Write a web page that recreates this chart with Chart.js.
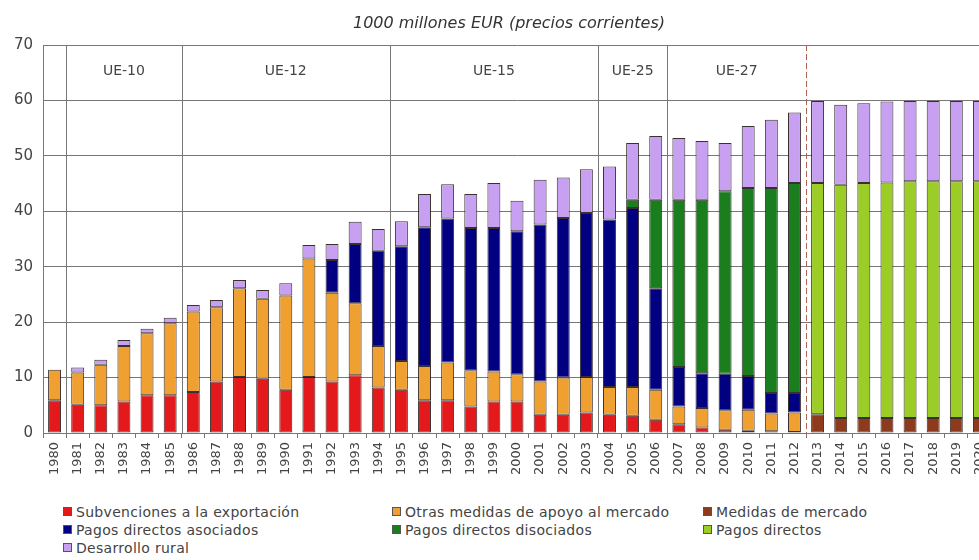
<!DOCTYPE html>
<html lang="es">
<head>
<meta charset="UTF-8">
<title>Gasto PAC</title>
<script src="https://cdn.jsdelivr.net/npm/chart.js@4.4.0/dist/chart.umd.min.js"></script>
<style>
  html, body { margin: 0; padding: 0; background: #fff; overflow: hidden; }
  #wrap { position: relative; width: 1018px; height: 560px; }
  #legend { position: absolute; left: 63px; top: 503px; font: 14px "DejaVu Sans", sans-serif; color: #444; letter-spacing: 0.3px; }
  #legend div.it { position: absolute; white-space: nowrap; height: 18px; line-height: 18px; }
  #legend span.sq { display: inline-block; width: 7px; height: 7px; border: 1px solid #555; margin-right: 4px; vertical-align: 1px; }
</style>
</head>
<body>
<div id="wrap">
  <canvas id="paint" width="1018" height="490"></canvas>
  <div id="legend"></div>
</div>
<script>
var years = [];
for (var y = 1980; y <= 2020; y++) years.push(String(y));

var titleText = "1000 millones EUR (precios corrientes)";

// 1000 millones EUR, value of each segment
var subvExport = [5.9,5.1,5.0,5.7,6.8,6.8,7.4,9.3,10.1,9.8,7.8,10.1,9.3,10.4,8.2,7.8,5.9,5.9,4.8,5.7,5.7,3.3,3.3,3.7,3.3,3.1,2.4,1.6,1.0,0.6,0.4,0.3,0.2,0,0,0,0,0,0,0,0];
var otrasMedidas = [5.5,5.8,7.3,10.0,11.2,13.0,14.5,13.4,16.0,14.4,17.0,21.4,16.0,13.0,7.5,5.2,6.2,6.8,6.5,5.4,4.9,6.0,6.7,6.4,5.0,5.2,5.4,3.2,3.5,3.5,3.8,3.2,3.5,0,0,0,0,0,0,0,0];
var medidasMercado = [0,0,0,0,0,0,0,0,0,0,0,0,0,0,0,0,0,0,0,0,0,0,0,0,0,0,0,0,0,0,0,0,0,3.4,2.7,2.7,2.7,2.7,2.7,2.7,2.7];
var pagosAsociados = [0,0,0,0,0,0,0,0,0,0,0,0,5.9,10.7,17.2,20.7,25.0,26.0,25.7,25.9,25.8,28.3,28.8,29.6,30.2,32.3,18.3,7.1,6.3,6.6,6.1,3.7,3.5,0,0,0,0,0,0,0,0];
var pagosDisociados = [0,0,0,0,0,0,0,0,0,0,0,0,0,0,0,0,0,0,0,0,0,0,0,0,0,1.5,16.0,30.2,31.3,32.9,33.9,37.0,37.9,0,0,0,0,0,0,0,0];
var pagosDirectos = [0,0,0,0,0,0,0,0,0,0,0,0,0,0,0,0,0,0,0,0,0,0,0,0,0,0,0,0,0,0,0,0,0,41.7,42.1,42.4,42.5,42.7,42.7,42.7,42.7];
var desarrolloRural = [0,0.9,0.9,1.1,0.8,1.0,1.2,1.3,1.5,1.6,2.2,2.4,2.9,4.0,3.9,4.5,6.0,6.2,6.1,8.1,5.5,8.1,7.3,7.9,9.6,10.2,11.5,11.1,10.6,8.7,11.2,12.3,12.7,14.8,14.4,14.4,14.6,14.5,14.5,14.5,14.5];

var seriesNames = ["Subvenciones a la exportación","Otras medidas de apoyo al mercado","Medidas de mercado","Pagos directos asociados","Pagos directos disociados","Pagos directos","Desarrollo rural"];
var seriesData = [subvExport, otrasMedidas, medidasMercado, pagosAsociados, pagosDisociados, pagosDirectos, desarrolloRural];
var seriesColors = ["#e3191c","#f0a030","#8e3a1c","#000080","#1a7d1e","#9ccc26","#c8a0f2"];

var regionNames = ["UE-10","UE-12","UE-15","UE-25","UE-27"];
var regionFirst = ["1981","1986","1995","2004","2007"];
var regionLast = ["1985","1994","2003","2006","2012"];

var datasets = seriesData.map(function (d, i) {
    return {
        label: seriesNames[i],
        data: d.map(function (v) { return v > 0 ? v : null; }),
        backgroundColor: seriesColors[i],
        borderColor: "rgba(35,25,25,0.9)",
        borderWidth: 1,
        borderSkipped: false,
        categoryPercentage: 1,
        barPercentage: 0.56
    };
});

// vertical separators, UE labels and the title
var regions = {
    id: "regions",
    beforeDatasetsDraw: function (chart) {
        var ctx = chart.ctx, x = chart.scales.x, ya = chart.scales.y;
        var top = chart.chartArea.top, bottom = chart.chartArea.bottom;
        function edge(idx) { return (x.getPixelForValue(idx - 1) + x.getPixelForValue(idx)) / 2; }
        ctx.save();
        ctx.strokeStyle = "#777";
        ctx.lineWidth = 1;
        for (var i = 0; i < regionNames.length; i++) {
            var a = edge(years.indexOf(regionFirst[i]));
            ctx.beginPath();
            ctx.moveTo(Math.round(a) + 0.5, top);
            ctx.lineTo(Math.round(a) + 0.5, bottom);
            ctx.stroke();
        }
        var last = edge(years.indexOf(regionLast[regionNames.length - 1]) + 1);
        ctx.strokeStyle = "#b06050";
        ctx.setLineDash([6, 3]);
        ctx.beginPath();
        ctx.moveTo(Math.round(last) + 0.5, top);
        ctx.lineTo(Math.round(last) + 0.5, bottom);
        ctx.stroke();
        ctx.setLineDash([]);
        ctx.fillStyle = "#444";
        ctx.font = "14px 'DejaVu Sans'";
        ctx.textAlign = "center";
        ctx.textBaseline = "middle";
        for (var j = 0; j < regionNames.length; j++) {
            var l = edge(years.indexOf(regionFirst[j]));
            var r = edge(years.indexOf(regionLast[j]) + 1);
            ctx.fillText(regionNames[j], (l + r) / 2, ya.getPixelForValue(65.3));
        }
        // title, centred on the full picture
        ctx.fillStyle = "#333";
        ctx.font = "italic 16px 'DejaVu Sans'";
        ctx.fillText(titleText, chart.width / 2, top - 21);
        ctx.restore();
    }
};

var chart = new Chart(document.getElementById("paint").getContext("2d"), {
    type: "bar",
    data: { labels: years, datasets: datasets },
    options: {
        responsive: false,
        animation: false,
        layout: { padding: { left: 0, right: 27, top: 45, bottom: 0 } },
        plugins: {
            legend: { display: false },
            tooltip: { enabled: false },
            title: { display: false }
        },
        scales: {
            x: {
                stacked: true,
                afterFit: function (s) { s.height = 57; },
                grid: { display: true, drawOnChartArea: false, color: "#777", tickLength: 5, offset: true },
                border: { color: "#777" },
                ticks: { autoSkip: false, maxRotation: 90, minRotation: 90, color: "#444", padding: 4,
                         font: { family: "DejaVu Sans", size: 13 } }
            },
            y: {
                stacked: true,
                min: 0, max: 70,
                afterFit: function (s) { s.width = 43; },
                grid: { color: "#777", drawTicks: false },
                border: { color: "#777" },
                ticks: { stepSize: 10, color: "#444", padding: 10,
                         font: { family: "DejaVu Sans", size: 15 } }
            }
        }
    },
    plugins: [regions]
});

// legend in three columns, like the original
var legendCols = [0, 329, 640];
var legend = document.getElementById("legend");
seriesNames.forEach(function (name, i) {
    var it = document.createElement("div");
    it.className = "it";
    it.style.left = legendCols[i % 3] + "px";
    it.style.top = (Math.floor(i / 3) * 18) + "px";
    var sq = document.createElement("span");
    sq.className = "sq";
    sq.style.background = seriesColors[i];
    it.appendChild(sq);
    it.appendChild(document.createTextNode(name));
    legend.appendChild(it);
});
</script>
</body>
</html>
